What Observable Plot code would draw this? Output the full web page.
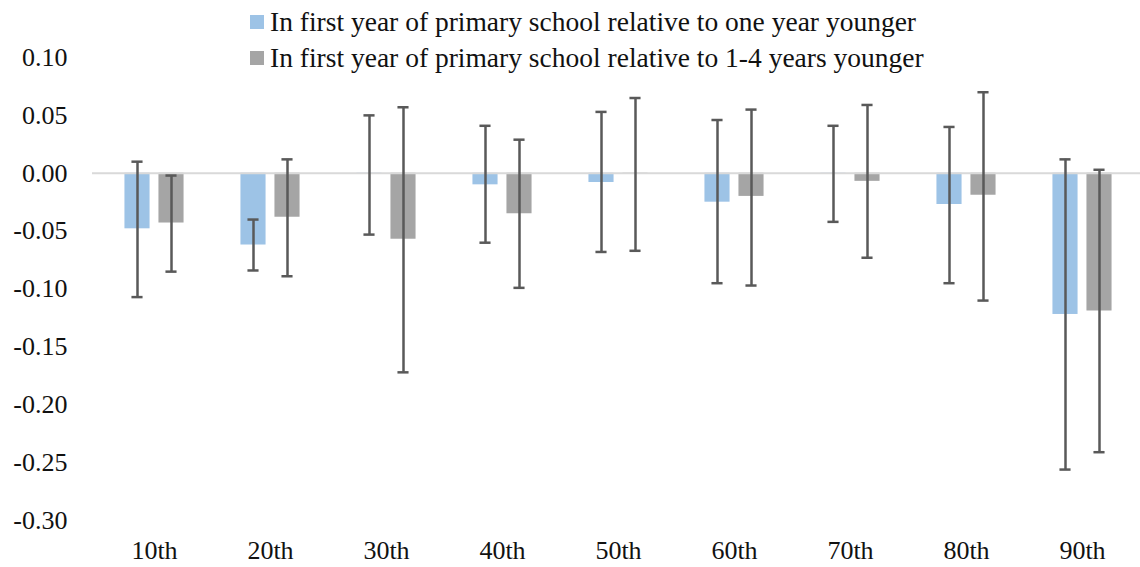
<!DOCTYPE html>
<html>
<head>
<meta charset="utf-8">
<script src="https://cdn.jsdelivr.net/npm/d3@7"></script>
<script src="https://cdn.jsdelivr.net/npm/@observablehq/plot@0.6"></script>
<style>
  body { margin: 0; background: #fff; }
  #wrap { position: relative; width: 1140px; height: 567px; font-family: "Liberation Serif", "Times New Roman", serif; }
  #legend { position: absolute; left: 250px; top: 4px; font-size: 27.5px; color: #111; }
  .row { display: flex; align-items: center; height: 36px; white-space: nowrap; }
  .sw { width: 14px; height: 14px; margin-right: 6px; }
</style>
</head>
<body>
<div id="wrap"><div id="legend"></div></div>
<script>
const categories = ["10th", "20th", "30th", "40th", "50th", "60th", "70th", "80th", "90th"];
const seriesNames = [
  "In first year of primary school relative to one year younger",
  "In first year of primary school relative to 1-4 years younger"
];
const seriesColors = ["#9DC3E6", "#A5A5A5"];
const oneYearValues = [-0.048, -0.062, -0.001, -0.010, -0.008, -0.025, -0.001, -0.027, -0.122];
const oneYearLow    = [-0.107, -0.084, -0.053, -0.060, -0.068, -0.095, -0.042, -0.095, -0.256];
const oneYearHigh   = [ 0.010, -0.040,  0.050,  0.041,  0.053,  0.046,  0.041,  0.040,  0.012];
const fourYearValues = [-0.043, -0.038, -0.057, -0.035, -0.001, -0.020, -0.007, -0.019, -0.119];
const fourYearLow    = [-0.085, -0.089, -0.172, -0.099, -0.067, -0.097, -0.073, -0.110, -0.241];
const fourYearHigh   = [-0.002,  0.012,  0.057,  0.029,  0.065,  0.055,  0.059,  0.070,  0.003];
const yTicks = [0.10, 0.05, 0.00, -0.05, -0.10, -0.15, -0.20, -0.25, -0.30];

const mk = (vals, lo, hi) => categories.map((c, i) => ({cat: c, value: vals[i], low: lo[i], high: hi[i]}));
const oneRows = mk(oneYearValues, oneYearLow, oneYearHigh);
const fourRows = mk(fourYearValues, fourYearLow, fourYearHigh);

const W = 1140, H = 567, ML = 92, MR = -4;
const step = (W - ML - MR) / categories.length;
const barW = 26, off = 17, cap = 12;
const bi = (step - barW) / 2, ci = (step - cap) / 2;
const errColor = "#595959";

function seriesMarks(rows, color, dx) {
  return Plot.barY(rows, {x: "cat", y: "value", fill: color, dx, insetLeft: bi, insetRight: bi});
}
function errMarks(rows, dx) {
  return [
    Plot.ruleX(rows, {x: "cat", y1: "low", y2: "high", dx, stroke: errColor, strokeWidth: 2.5}),
    Plot.tickY(rows, {x: "cat", y: "high", dx, insetLeft: ci, insetRight: ci, stroke: errColor, strokeWidth: 2.5}),
    Plot.tickY(rows, {x: "cat", y: "low", dx, insetLeft: ci, insetRight: ci, stroke: errColor, strokeWidth: 2.5})
  ];
}

const chart = Plot.plot({
  width: W, height: H,
  marginLeft: ML, marginRight: MR, marginTop: 57, marginBottom: 47,
  style: {fontFamily: "'Liberation Serif', 'Times New Roman', serif", fontSize: "26px", color: "#111", background: "transparent", overflow: "visible"},
  x: {type: "band", domain: categories, padding: 0, label: null, tickSize: 0, tickPadding: 20},
  y: {domain: [-0.30, 0.10], ticks: yTicks, tickFormat: d => d.toFixed(2), label: null, tickSize: 0, tickPadding: 25},
  marks: [
    seriesMarks(oneRows, seriesColors[0], -off),
    seriesMarks(fourRows, seriesColors[1], off),
    Plot.ruleY([0], {stroke: "#D9D9D9", strokeWidth: 2}),
    ...errMarks(oneRows, -off),
    ...errMarks(fourRows, off)
  ]
});
document.getElementById("wrap").prepend(chart);

const legend = document.getElementById("legend");
seriesNames.forEach((name, i) => {
  const row = document.createElement("div");
  row.className = "row";
  const sw = document.createElement("span");
  sw.className = "sw";
  sw.style.background = seriesColors[i];
  const t = document.createElement("span");
  t.textContent = name;
  row.append(sw, t);
  legend.append(row);
});
</script>
</body>
</html>
